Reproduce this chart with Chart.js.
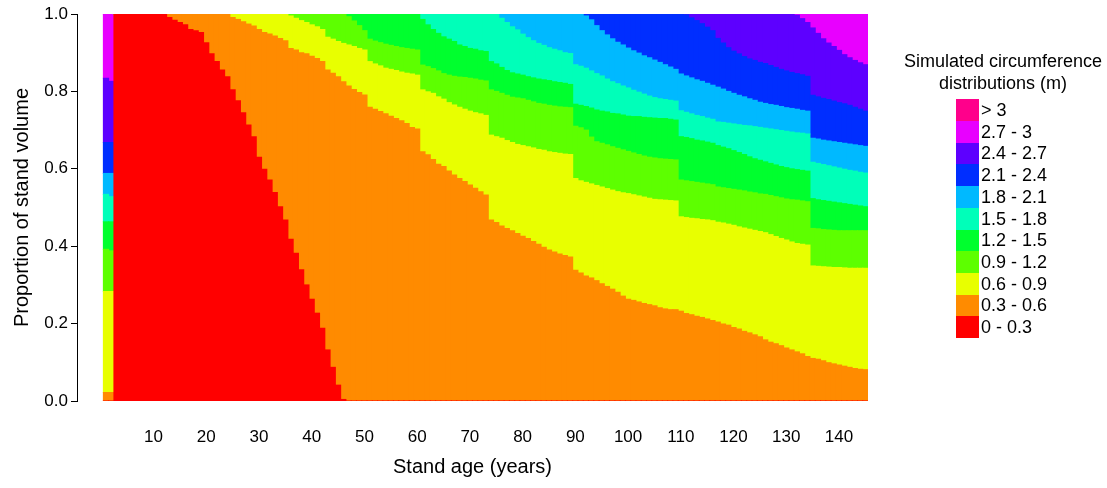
<!DOCTYPE html>
<html>
<head>
<meta charset="utf-8">
<script src="https://cdn.jsdelivr.net/npm/chart.js@4"></script>
<style>
  html, body { margin: 0; padding: 0; background: #fff; }
</style>
</head>
<body>
<canvas id="myChart" width="1107" height="488"></canvas>
<script>
const classLabels = ["0 - 0.3", "0.3 - 0.6", "0.6 - 0.9", "0.9 - 1.2", "1.2 - 1.5", "1.5 - 1.8",
                     "1.8 - 2.1", "2.1 - 2.4", "2.4 - 2.7", "2.7 - 3", "> 3"];
const classColors = ["#FF0000", "#FF8B00", "#E8FF00", "#5DFF00", "#00FF2E", "#00FFB9",
                     "#00B9FF", "#002EFF", "#5D00FF", "#E800FF", "#FF008B"];
const xTicks = [10, 20, 30, 40, 50, 60, 70, 80, 90, 100, 110, 120, 130, 140];
const topOfStand = 1;

// cumulative proportion of stand volume below the upper limit of each class, stand age 1..145
const upper03 = [
  0, 0, 1, 1, 1, 1, 1, 1, 1, 1,
  1, 1, 0.991, 0.984, 0.978, 0.972, 0.960, 0.957, 0.952, 0.926,
  0.897, 0.877, 0.855, 0.838, 0.804, 0.776, 0.745, 0.713, 0.683, 0.630,
  0.599, 0.571, 0.539, 0.502, 0.468, 0.418, 0.382, 0.339, 0.300, 0.263,
  0.227, 0.188, 0.132, 0.087, 0.041, 0.004, 0, 0, 0, 0,
  0, 0, 0, 0, 0, 0, 0, 0, 0, 0,
  0, 0, 0, 0, 0, 0, 0, 0, 0, 0,
  0, 0, 0, 0, 0, 0, 0, 0, 0, 0,
  0, 0, 0, 0, 0, 0, 0, 0, 0, 0,
  0, 0, 0, 0, 0, 0, 0, 0, 0, 0,
  0, 0, 0, 0, 0, 0, 0, 0, 0, 0,
  0, 0, 0, 0, 0, 0, 0, 0, 0, 0,
  0, 0, 0, 0, 0, 0, 0, 0, 0, 0,
  0, 0, 0, 0, 0, 0, 0, 0, 0, 0,
  0, 0, 0, 0, 0
];
const upper06 = [
  0.022, 0.022, 1, 1, 1, 1, 1, 1, 1, 1,
  1, 1, 1, 1, 1, 1, 1, 1, 1, 1,
  1, 1, 1, 1, 0.991, 0.986, 0.980, 0.974, 0.969, 0.960,
  0.952, 0.948, 0.943, 0.937, 0.931, 0.911, 0.907, 0.900, 0.897, 0.891,
  0.885, 0.877, 0.855, 0.847, 0.838, 0.825, 0.814, 0.805, 0.797, 0.791,
  0.759, 0.754, 0.748, 0.742, 0.736, 0.730, 0.724, 0.717, 0.707, 0.703,
  0.644, 0.636, 0.624, 0.612, 0.606, 0.594, 0.584, 0.575, 0.567, 0.558,
  0.550, 0.541, 0.532, 0.468, 0.461, 0.452, 0.446, 0.440, 0.433, 0.426,
  0.420, 0.412, 0.405, 0.397, 0.390, 0.385, 0.380, 0.376, 0.372, 0.338,
  0.331, 0.323, 0.318, 0.311, 0.303, 0.296, 0.289, 0.281, 0.271, 0.263,
  0.260, 0.256, 0.252, 0.249, 0.246, 0.241, 0.238, 0.236, 0.236, 0.232,
  0.226, 0.223, 0.219, 0.216, 0.212, 0.208, 0.204, 0.199, 0.196, 0.190,
  0.186, 0.180, 0.176, 0.171, 0.166, 0.158, 0.152, 0.148, 0.143, 0.137,
  0.132, 0.127, 0.122, 0.115, 0.110, 0.108, 0.104, 0.099, 0.096, 0.093,
  0.090, 0.087, 0.084, 0.082, 0.081
];
const upper09 = [
  0.283, 0.283, 1, 1, 1, 1, 1, 1, 1, 1,
  1, 1, 1, 1, 1, 1, 1, 1, 1, 1,
  1, 1, 1, 1, 1, 1, 1, 1, 1, 1,
  1, 1, 1, 1, 1, 0.995, 0.989, 0.983, 0.978, 0.972,
  0.967, 0.960, 0.940, 0.935, 0.929, 0.924, 0.920, 0.916, 0.911, 0.907,
  0.877, 0.871, 0.866, 0.860, 0.857, 0.854, 0.850, 0.847, 0.845, 0.842,
  0.804, 0.799, 0.795, 0.786, 0.780, 0.771, 0.765, 0.759, 0.754, 0.749,
  0.745, 0.742, 0.738, 0.687, 0.683, 0.679, 0.673, 0.668, 0.663, 0.660,
  0.657, 0.654, 0.650, 0.648, 0.644, 0.642, 0.640, 0.638, 0.637, 0.575,
  0.569, 0.565, 0.561, 0.557, 0.553, 0.549, 0.545, 0.541, 0.538, 0.536,
  0.533, 0.530, 0.527, 0.524, 0.521, 0.520, 0.519, 0.518, 0.517, 0.476,
  0.474, 0.472, 0.471, 0.469, 0.468, 0.466, 0.462, 0.460, 0.457, 0.454,
  0.450, 0.447, 0.444, 0.441, 0.438, 0.435, 0.430, 0.425, 0.420, 0.416,
  0.411, 0.407, 0.405, 0.403, 0.349, 0.348, 0.347, 0.346, 0.345, 0.345,
  0.344, 0.343, 0.343, 0.343, 0.343
];
const upper12 = [
  0.392, 0.388, 1, 1, 1, 1, 1, 1, 1, 1,
  1, 1, 1, 1, 1, 1, 1, 1, 1, 1,
  1, 1, 1, 1, 1, 1, 1, 1, 1, 1,
  1, 1, 1, 1, 1, 1, 1, 1, 1, 1,
  1, 1, 1, 1, 1, 1, 0.993, 0.982, 0.970, 0.957,
  0.935, 0.930, 0.926, 0.922, 0.919, 0.916, 0.913, 0.911, 0.909, 0.907,
  0.868, 0.864, 0.859, 0.853, 0.846, 0.842, 0.839, 0.837, 0.836, 0.834,
  0.832, 0.829, 0.827, 0.804, 0.800, 0.795, 0.790, 0.785, 0.783, 0.781,
  0.777, 0.773, 0.769, 0.767, 0.764, 0.762, 0.760, 0.759, 0.758, 0.710,
  0.706, 0.700, 0.682, 0.670, 0.666, 0.662, 0.657, 0.653, 0.649, 0.645,
  0.641, 0.637, 0.633, 0.630, 0.628, 0.626, 0.625, 0.624, 0.623, 0.571,
  0.569, 0.567, 0.565, 0.563, 0.561, 0.559, 0.553, 0.551, 0.549, 0.547,
  0.545, 0.543, 0.540, 0.538, 0.535, 0.534, 0.531, 0.528, 0.525, 0.522,
  0.520, 0.519, 0.517, 0.515, 0.446, 0.445, 0.443, 0.442, 0.441, 0.440,
  0.440, 0.440, 0.440, 0.440, 0.440
];
const upper15 = [
  0.463, 0.463, 1, 1, 1, 1, 1, 1, 1, 1,
  1, 1, 1, 1, 1, 1, 1, 1, 1, 1,
  1, 1, 1, 1, 1, 1, 1, 1, 1, 1,
  1, 1, 1, 1, 1, 1, 1, 1, 1, 1,
  1, 1, 1, 1, 1, 1, 1, 1, 1, 1,
  1, 1, 1, 1, 1, 1, 1, 1, 1, 1,
  0.986, 0.972, 0.960, 0.950, 0.941, 0.935, 0.929, 0.920, 0.916, 0.911,
  0.909, 0.905, 0.903, 0.877, 0.871, 0.862, 0.854, 0.848, 0.845, 0.842,
  0.838, 0.835, 0.832, 0.830, 0.828, 0.825, 0.823, 0.821, 0.818, 0.767,
  0.764, 0.761, 0.757, 0.752, 0.749, 0.747, 0.743, 0.742, 0.739, 0.736,
  0.735, 0.735, 0.733, 0.732, 0.731, 0.730, 0.730, 0.728, 0.726, 0.683,
  0.681, 0.678, 0.674, 0.672, 0.669, 0.666, 0.660, 0.656, 0.652, 0.647,
  0.642, 0.637, 0.631, 0.626, 0.622, 0.618, 0.614, 0.610, 0.606, 0.603,
  0.600, 0.598, 0.596, 0.594, 0.523, 0.520, 0.518, 0.516, 0.514, 0.512,
  0.510, 0.508, 0.506, 0.504, 0.502
];
const upper18 = [
  0.534, 0.528, 1, 1, 1, 1, 1, 1, 1, 1,
  1, 1, 1, 1, 1, 1, 1, 1, 1, 1,
  1, 1, 1, 1, 1, 1, 1, 1, 1, 1,
  1, 1, 1, 1, 1, 1, 1, 1, 1, 1,
  1, 1, 1, 1, 1, 1, 1, 1, 1, 1,
  1, 1, 1, 1, 1, 1, 1, 1, 1, 1,
  1, 1, 1, 1, 1, 1, 1, 1, 1, 1,
  1, 1, 1, 1, 1, 0.989, 0.978, 0.967, 0.959, 0.948,
  0.939, 0.931, 0.924, 0.919, 0.913, 0.909, 0.905, 0.900, 0.898, 0.869,
  0.865, 0.860, 0.853, 0.846, 0.840, 0.832, 0.825, 0.820, 0.814, 0.809,
  0.803, 0.798, 0.793, 0.788, 0.784, 0.781, 0.779, 0.777, 0.775, 0.750,
  0.746, 0.742, 0.738, 0.735, 0.731, 0.728, 0.721, 0.720, 0.718, 0.716,
  0.714, 0.712, 0.711, 0.709, 0.707, 0.705, 0.703, 0.701, 0.699, 0.697,
  0.695, 0.693, 0.692, 0.690, 0.617, 0.614, 0.611, 0.608, 0.605, 0.602,
  0.599, 0.596, 0.594, 0.591, 0.589
];
const upper21 = [
  0.588, 0.588, 1, 1, 1, 1, 1, 1, 1, 1,
  1, 1, 1, 1, 1, 1, 1, 1, 1, 1,
  1, 1, 1, 1, 1, 1, 1, 1, 1, 1,
  1, 1, 1, 1, 1, 1, 1, 1, 1, 1,
  1, 1, 1, 1, 1, 1, 1, 1, 1, 1,
  1, 1, 1, 1, 1, 1, 1, 1, 1, 1,
  1, 1, 1, 1, 1, 1, 1, 1, 1, 1,
  1, 1, 1, 1, 1, 1, 1, 1, 1, 1,
  1, 1, 1, 1, 1, 1, 1, 1, 1, 1,
  1, 0.995, 0.985, 0.970, 0.957, 0.946, 0.936, 0.927, 0.920, 0.912,
  0.905, 0.899, 0.892, 0.887, 0.881, 0.875, 0.869, 0.863, 0.857, 0.845,
  0.840, 0.835, 0.830, 0.826, 0.821, 0.816, 0.811, 0.806, 0.800, 0.795,
  0.790, 0.786, 0.781, 0.777, 0.772, 0.769, 0.766, 0.764, 0.761, 0.758,
  0.756, 0.754, 0.751, 0.749, 0.679, 0.677, 0.674, 0.672, 0.670, 0.668,
  0.666, 0.664, 0.662, 0.660, 0.658
];
const upper24 = [
  0.668, 0.668, 1, 1, 1, 1, 1, 1, 1, 1,
  1, 1, 1, 1, 1, 1, 1, 1, 1, 1,
  1, 1, 1, 1, 1, 1, 1, 1, 1, 1,
  1, 1, 1, 1, 1, 1, 1, 1, 1, 1,
  1, 1, 1, 1, 1, 1, 1, 1, 1, 1,
  1, 1, 1, 1, 1, 1, 1, 1, 1, 1,
  1, 1, 1, 1, 1, 1, 1, 1, 1, 1,
  1, 1, 1, 1, 1, 1, 1, 1, 1, 1,
  1, 1, 1, 1, 1, 1, 1, 1, 1, 1,
  1, 1, 1, 1, 1, 1, 1, 1, 1, 1,
  1, 1, 1, 1, 1, 1, 1, 1, 1, 1,
  0.998, 0.990, 0.983, 0.975, 0.966, 0.957, 0.937, 0.925, 0.913, 0.904,
  0.897, 0.890, 0.884, 0.880, 0.875, 0.872, 0.867, 0.862, 0.857, 0.853,
  0.849, 0.846, 0.843, 0.839, 0.790, 0.786, 0.782, 0.779, 0.775, 0.771,
  0.768, 0.764, 0.759, 0.754, 0.749
];
const upper27 = [
  0.834, 0.826, 1, 1, 1, 1, 1, 1, 1, 1,
  1, 1, 1, 1, 1, 1, 1, 1, 1, 1,
  1, 1, 1, 1, 1, 1, 1, 1, 1, 1,
  1, 1, 1, 1, 1, 1, 1, 1, 1, 1,
  1, 1, 1, 1, 1, 1, 1, 1, 1, 1,
  1, 1, 1, 1, 1, 1, 1, 1, 1, 1,
  1, 1, 1, 1, 1, 1, 1, 1, 1, 1,
  1, 1, 1, 1, 1, 1, 1, 1, 1, 1,
  1, 1, 1, 1, 1, 1, 1, 1, 1, 1,
  1, 1, 1, 1, 1, 1, 1, 1, 1, 1,
  1, 1, 1, 1, 1, 1, 1, 1, 1, 1,
  1, 1, 1, 1, 1, 1, 1, 1, 1, 1,
  1, 1, 1, 1, 1, 1, 1, 1, 1, 1,
  1, 0.997, 0.988, 0.978, 0.964, 0.950, 0.936, 0.925, 0.916, 0.906,
  0.895, 0.887, 0.880, 0.874, 0.869
];
const upper30 = [
  1, 1, 1, 1, 1, 1, 1, 1, 1, 1,
  1, 1, 1, 1, 1, 1, 1, 1, 1, 1,
  1, 1, 1, 1, 1, 1, 1, 1, 1, 1,
  1, 1, 1, 1, 1, 1, 1, 1, 1, 1,
  1, 1, 1, 1, 1, 1, 1, 1, 1, 1,
  1, 1, 1, 1, 1, 1, 1, 1, 1, 1,
  1, 1, 1, 1, 1, 1, 1, 1, 1, 1,
  1, 1, 1, 1, 1, 1, 1, 1, 1, 1,
  1, 1, 1, 1, 1, 1, 1, 1, 1, 1,
  1, 1, 1, 1, 1, 1, 1, 1, 1, 1,
  1, 1, 1, 1, 1, 1, 1, 1, 1, 1,
  1, 1, 1, 1, 1, 1, 1, 1, 1, 1,
  1, 1, 1, 1, 1, 1, 1, 1, 1, 1,
  1, 1, 1, 1, 1, 1, 1, 1, 1, 1,
  1, 1, 1, 1, 1
];

const upperLimits = [upper03, upper06, upper09, upper12, upper15, upper18,
                     upper21, upper24, upper27, upper30];
const ages = upper03.map((_, i) => i + 1);

upperLimits.forEach((arr, k) => {
  if (arr.length !== ages.length) throw new Error("array " + k + " has " + arr.length + " values");
});

const FONT = "'Liberation Sans', Arial, Helvetica, sans-serif";
Chart.defaults.font.family = FONT;
Chart.defaults.color = "#000";

// each class is a floating bar from the limit below it to its own upper limit
const datasets = classLabels.map((label, k) => {
  const lower = k === 0 ? null : upperLimits[k - 1];
  const upper = k < upperLimits.length ? upperLimits[k] : null;
  return {
    label: label,
    data: ages.map((a, i) => ({
      x: a,
      y: [lower ? lower[i] : 0, upper ? upper[i] : topOfStand]
    })),
    backgroundColor: classColors[k],
    borderWidth: 0,
    barPercentage: 1,
    categoryPercentage: 1,
    grouped: false,
    inflateAmount: 0.5
  };
});

// legend drawn as one column of touching boxes, like the original
const legendBlock = {
  id: "legendBlock",
  afterDraw(chart) {
    const ctx = chart.ctx;
    ctx.save();
    ctx.fillStyle = "#000";
    ctx.font = "18px " + FONT;
    ctx.textAlign = "center";
    ctx.textBaseline = "middle";
    ctx.fillText("Simulated circumference", 1003, 62);
    ctx.fillText("distributions (m)", 1003, 84);
    const top = 99.3, rowH = 21.7;
    let row = 0;
    for (let k = classLabels.length - 1; k >= 0; k--, row++) {
      const y0 = Math.round(top + row * rowH);
      const y1 = Math.round(top + (row + 1) * rowH);
      ctx.fillStyle = classColors[k];
      ctx.fillRect(956, y0, 23, y1 - y0);
      ctx.fillStyle = "#000";
      ctx.textAlign = "left";
      ctx.fillText(classLabels[k], 981, (y0 + y1) / 2 + 1);
    }
    ctx.restore();
  }
};

new Chart(document.getElementById("myChart"), {
  type: "bar",
  data: { datasets: datasets },
  plugins: [legendBlock],
  options: {
    responsive: false,
    animation: false,
    events: [],
    layout: { padding: { top: 14, right: 239, bottom: 0, left: 0 } },
    plugins: {
      legend: { display: false },
      tooltip: { enabled: false }
    },
    scales: {
      x: {
        type: "linear",
        min: -4.5,
        max: 145.5,
        offset: false,
        afterBuildTicks: (scale) => { scale.ticks = xTicks.map(v => ({ value: v })); },
        afterFit: (scale) => { scale.height = 87; },
        grid: { display: false, drawTicks: false },
        border: { display: false },
        ticks: { font: { size: 17 }, padding: 26, maxRotation: 0, autoSkip: false },
        title: { display: true, text: "Stand age (years)", font: { size: 20 }, padding: { top: 0, bottom: 9 } }
      },
      y: {
        min: 0,
        max: 1,
        afterFit: (scale) => { scale.width = 77; },
        grid: { drawOnChartArea: false, drawTicks: true, tickLength: 6, color: "#000" },
        border: { display: true, color: "#000", width: 1 },
        ticks: { stepSize: 0.2, font: { size: 17 }, padding: 3, callback: (v) => v.toFixed(1) },
        title: { display: true, text: "Proportion of stand volume", font: { size: 20 }, padding: { top: 10, bottom: 0 } }
      }
    }
  }
});
</script>
</body>
</html>
